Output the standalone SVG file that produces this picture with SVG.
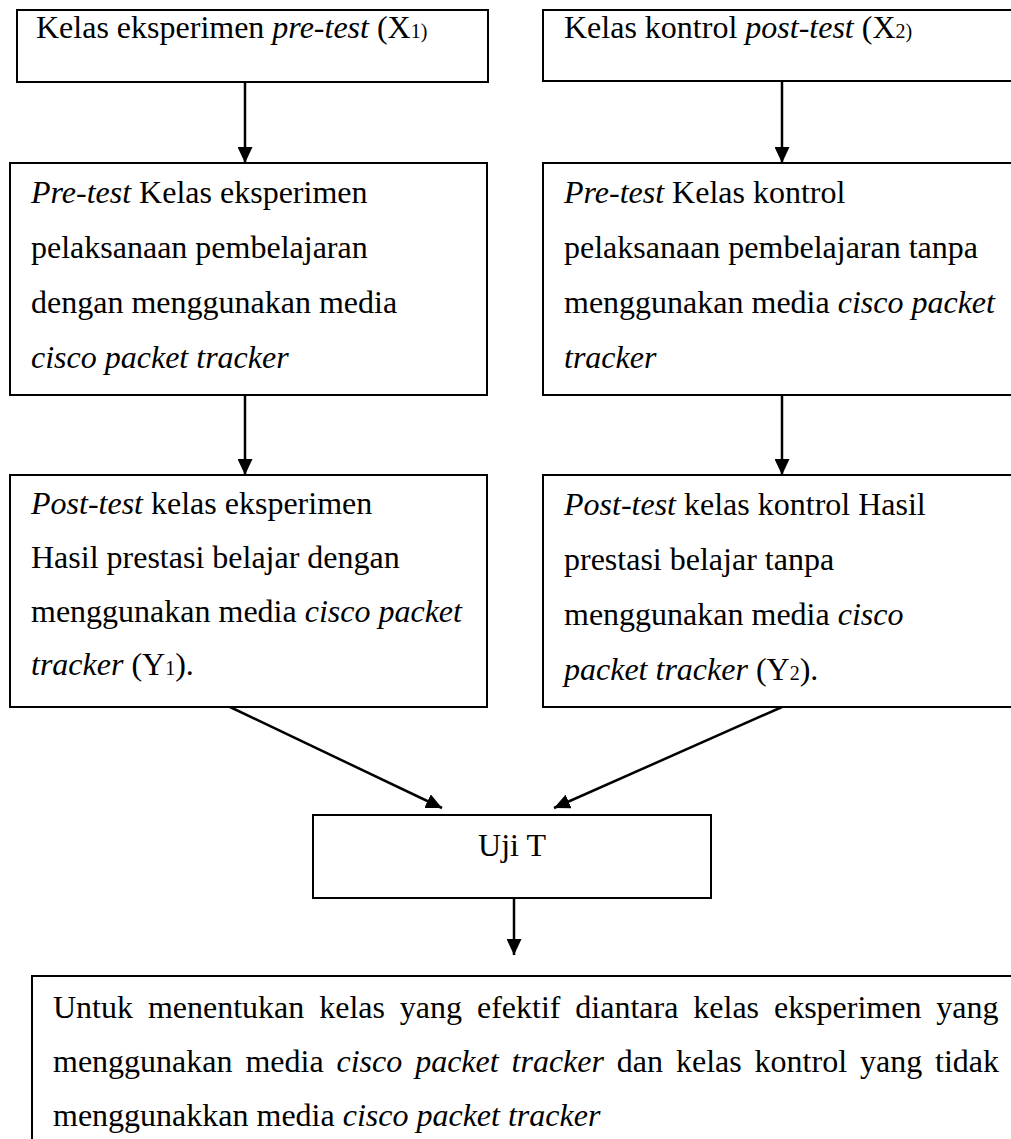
<svg xmlns="http://www.w3.org/2000/svg" width="1011" height="1139" viewBox="0 0 1011 1139">
<style>
.box{fill:#fff;stroke:#000;stroke-width:2}
.t{font-family:"Liberation Serif","Times New Roman",serif;font-size:32px;fill:#000}
.i{font-style:italic}
.sub{font-size:20px}
.c{fill:none;stroke:#000;stroke-width:2.5}
</style>
<defs>
<marker id="arr" viewBox="0 0 16 15" markerWidth="16" markerHeight="15" refX="16" refY="7.5" orient="auto" markerUnits="userSpaceOnUse">
<path d="M0,0 L16,7.5 L0,15 z" fill="#000"/>
</marker>
</defs>
<rect width="1011" height="1139" fill="#fff"/>
<g id="connectors">
<line class="c" x1="245" y1="82" x2="245" y2="163" marker-end="url(#arr)"/>
<line class="c" x1="782" y1="81" x2="782" y2="163" marker-end="url(#arr)"/>
<line class="c" x1="245" y1="395" x2="245" y2="475" marker-end="url(#arr)"/>
<line class="c" x1="782" y1="395" x2="782" y2="475" marker-end="url(#arr)"/>
<line class="c" x1="230" y1="707" x2="442" y2="808" marker-end="url(#arr)"/>
<line class="c" x1="782" y1="707" x2="554" y2="808" marker-end="url(#arr)"/>
<line class="c" x1="514" y1="898" x2="514" y2="955" marker-end="url(#arr)"/>
</g>
<g id="n1">
<rect class="box" x="17" y="10" width="471" height="72"/>
<text class="t" x="36" y="38">Kelas eksperimen <tspan class="i">pre-test</tspan> (X<tspan class="sub">1)</tspan></text>
</g>
<g id="n2">
<rect class="box" x="543" y="10" width="480" height="71"/>
<text class="t" x="564" y="38">Kelas kontrol <tspan class="i">post-test</tspan> (X<tspan class="sub">2)</tspan></text>
</g>
<g id="n3">
<rect class="box" x="10" y="163" width="477" height="232"/>
<text class="t" x="31" y="203"><tspan class="i">Pre-test</tspan> Kelas eksperimen</text>
<text class="t" x="31" y="258">pelaksanaan pembelajaran</text>
<text class="t" x="31" y="313">dengan menggunakan media</text>
<text class="t i" x="31" y="368">cisco packet tracker</text>
</g>
<g id="n4">
<rect class="box" x="543" y="163" width="480" height="232"/>
<text class="t" x="564" y="203"><tspan class="i">Pre-test</tspan> Kelas kontrol</text>
<text class="t" x="564" y="258">pelaksanaan pembelajaran tanpa</text>
<text class="t" x="564" y="313">menggunakan media <tspan class="i">cisco packet</tspan></text>
<text class="t i" x="564" y="368">tracker</text>
</g>
<g id="n5">
<rect class="box" x="10" y="475" width="477" height="232"/>
<text class="t" x="31" y="514"><tspan class="i">Post-test</tspan> kelas eksperimen</text>
<text class="t" x="31" y="568">Hasil prestasi belajar dengan</text>
<text class="t" x="31" y="622">menggunakan media <tspan class="i">cisco packet</tspan></text>
<text class="t" x="31" y="675"><tspan class="i">tracker</tspan> (Y<tspan class="sub">1</tspan>).</text>
</g>
<g id="n6">
<rect class="box" x="543" y="475" width="480" height="232"/>
<text class="t" x="564" y="515"><tspan class="i">Post-test</tspan> kelas kontrol Hasil</text>
<text class="t" x="564" y="570">prestasi belajar tanpa</text>
<text class="t" x="564" y="625">menggunakan media <tspan class="i">cisco</tspan></text>
<text class="t" x="564" y="680"><tspan class="i">packet tracker</tspan> (Y<tspan class="sub">2</tspan>).</text>
</g>
<g id="n7">
<rect class="box" x="313" y="815" width="398" height="83"/>
<text class="t" x="512" y="856" text-anchor="middle">Uji T</text>
</g>
<g id="n8">
<rect class="box" x="32" y="976" width="1000" height="200"/>
<text class="t" x="53" y="1018" word-spacing="6.9">Untuk menentukan kelas yang efektif diantara kelas eksperimen yang</text>
<text class="t" x="53" y="1072" word-spacing="4.9">menggunakan media <tspan class="i">cisco packet tracker</tspan> dan kelas kontrol yang tidak</text>
<text class="t" x="53" y="1126">menggunakkan media <tspan class="i">cisco packet tracker</tspan></text>
</g>
</svg>
